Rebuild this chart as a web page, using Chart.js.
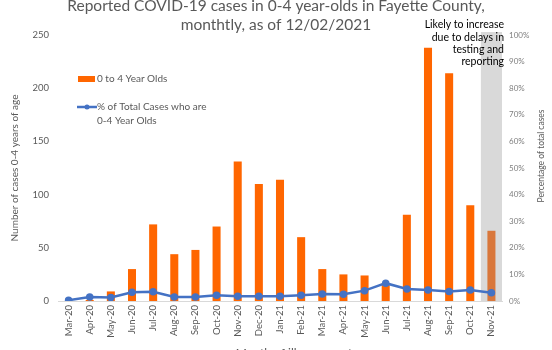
<!DOCTYPE html>
<html>
<head>
<meta charset="utf-8">
<script src="https://cdn.jsdelivr.net/npm/chart.js@4"></script>
<style>
  html, body { margin: 0; padding: 0; background: #fff; overflow: hidden; }
  #wrap { width: 552px; height: 350px; position: relative; }
</style>
</head>
<body>
<div id="wrap"><canvas id="casesChart" width="552" height="350"></canvas></div>
<script>
// Monthly data
const months = ['Mar-20', 'Apr-20', 'May-20', 'Jun-20', 'Jul-20', 'Aug-20', 'Sep-20', 'Oct-20',
  'Nov-20', 'Dec-20', 'Jan-21', 'Feb-21', 'Mar-21', 'Apr-21', 'May-21', 'Jun-21',
  'Jul-21', 'Aug-21', 'Sep-21', 'Oct-21', 'Nov-21'];
const cases = [0, 1, 9, 30, 72, 44, 48, 70, 131, 110, 114, 60, 30, 25, 24, 17, 81, 238, 214, 90, 66];
const pctOfTotal = [0.3, 1.5, 1.3, 3.3, 3.5, 1.5, 1.5, 2.2, 1.8, 1.8, 1.8, 2.2, 2.6, 2.5, 3.9, 6.7, 4.5, 4.1, 3.6, 4.1, 3.1];
const caseTicks = [0, 50, 100, 150, 200, 250];
const pctTicks = [0, 10, 20, 30, 40, 50, 60, 70, 80, 90, 100];

const titleLines = ['Reported COVID-19 cases in 0-4 year-olds in Fayette County,', 'monthtly, as of 12/02/2021'];
const noteLines = ['Likely to increase', 'due to delays in', 'testing and', 'reporting'];

const FONT = 'Lato, "Open Sans", sans-serif';
const GREY = '#595959';

// last month is incomplete, drawn in a duller orange over a grey band
const barColors = cases.map((v, i) => (i === cases.length - 1 ? '#D9773B' : '#FF6600'));

const extras = {
  id: 'extras',
  beforeDatasetsDraw(chart) {
    const { ctx, chartArea, scales: { x } } = chart;
    const step = x.getPixelForValue(1) - x.getPixelForValue(0);
    const cx = x.getPixelForValue(months.length - 1);
    ctx.save();
    ctx.fillStyle = '#D9D9D9';
    ctx.fillRect(cx - step / 2, chartArea.top - 3, step, chartArea.bottom - chartArea.top + 3);
    ctx.restore();
  },
  afterDraw(chart) {
    const { ctx } = chart;
    ctx.save();

    // title
    ctx.fillStyle = GREY;
    ctx.textAlign = 'center';
    ctx.textBaseline = 'alphabetic';
    ctx.font = '15.5px ' + FONT;
    ctx.fillText(titleLines[0], 276, 11);
    ctx.fillText(titleLines[1], 276, 30);

    // note above the last month
    ctx.fillStyle = '#000';
    ctx.textAlign = 'right';
    ctx.textBaseline = 'middle';
    ctx.font = '10.5px ' + FONT;
    noteLines.forEach((t, i) => ctx.fillText(t, 504, 25 + i * 12.3));

    // legend
    ctx.fillStyle = '#FF6600';
    ctx.fillRect(78, 76, 17, 6);
    ctx.strokeStyle = '#4472C4';
    ctx.lineWidth = 2.5;
    ctx.beginPath();
    ctx.moveTo(77, 107);
    ctx.lineTo(97, 107);
    ctx.stroke();
    ctx.fillStyle = '#4472C4';
    ctx.beginPath();
    ctx.arc(87, 107, 2.5, 0, Math.PI * 2);
    ctx.fill();
    ctx.fillStyle = GREY;
    ctx.textAlign = 'left';
    ctx.font = '10px ' + FONT;
    ctx.fillText('0 to 4 Year Olds', 97, 79);
    ctx.fillText('% of Total Cases who are', 97, 107);
    ctx.fillText('0-4 Year Olds', 97, 121);

    // axis titles
    ctx.textAlign = 'center';
    ctx.font = '10px ' + FONT;
    ctx.translate(15, 168);
    ctx.rotate(-Math.PI / 2);
    ctx.fillText('Number of cases 0-4 years of age', 0, 0);
    ctx.setTransform(1, 0, 0, 1, 0, 0);
    ctx.font = '8.5px ' + FONT;
    ctx.translate(541, 156);
    ctx.rotate(-Math.PI / 2);
    ctx.fillText('Percentage of total cases', 0, 0);
    ctx.setTransform(1, 0, 0, 1, 0, 0);
    ctx.textBaseline = 'alphabetic';
    ctx.font = '12px ' + FONT;
    ctx.fillText('Month of illness onset', 294, 357);

    ctx.restore();
  }
};

const ctx = document.getElementById('casesChart').getContext('2d');
new Chart(ctx, {
  data: {
    labels: months,
    datasets: [
      {
        type: 'line',
        label: '% of Total Cases who are 0-4 Year Olds',
        data: pctOfTotal,
        yAxisID: 'y1',
        borderColor: '#4472C4',
        backgroundColor: '#4472C4',
        borderWidth: 2.5,
        pointRadius: 2.5,
        pointHoverRadius: 2.5,
        tension: 0,
        order: 0,
      },
      {
        type: 'bar',
        label: '0 to 4 Year Olds',
        data: cases,
        yAxisID: 'y',
        backgroundColor: barColors,
        barPercentage: 0.38,
        categoryPercentage: 1,
        order: 1,
      },
    ],
  },
  options: {
    responsive: false,
    animation: false,
    layout: { padding: { top: 35 } },
    plugins: {
      legend: { display: false },
      title: { display: false },
      tooltip: { enabled: false },
    },
    scales: {
      x: {
        grid: { display: false, drawTicks: false },
        border: { display: true, color: '#D9D9D9', width: 1 },
        ticks: {
          color: GREY,
          font: { family: FONT, size: 9.5 },
          minRotation: 90,
          maxRotation: 90,
          autoSkip: false,
          padding: 4,
        },
        afterFit: (s) => { s.height = 49; },
      },
      y: {
        position: 'left',
        min: 0,
        max: 250,
        afterBuildTicks: (s) => { s.ticks = caseTicks.map((v) => ({ value: v })); },
        grid: { display: false, drawTicks: false },
        border: { display: false },
        ticks: { color: GREY, font: { family: FONT, size: 9.5 }, padding: 9 },
        afterFit: (s) => { s.width = 58; },
      },
      y1: {
        position: 'right',
        min: 0,
        max: 100,
        afterBuildTicks: (s) => { s.ticks = pctTicks.map((v) => ({ value: v })); },
        grid: { display: false, drawTicks: false },
        border: { display: false },
        ticks: {
          color: '#7F7F7F',
          font: { family: FONT, size: 8 },
          padding: 7,
          callback: (v) => v + '%',
        },
        afterFit: (s) => { s.width = 50; },
      },
    },
  },
  plugins: [extras],
});
</script>
</body>
</html>
